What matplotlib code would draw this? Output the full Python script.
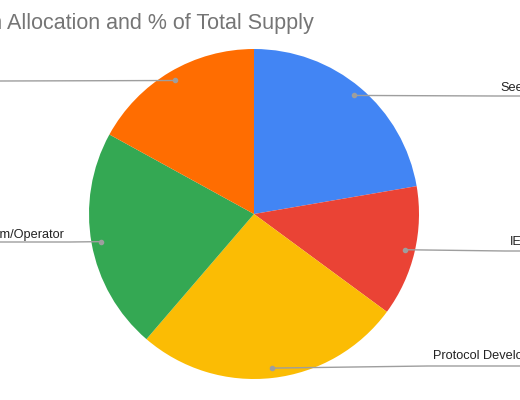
import numpy as np
import matplotlib.pyplot as plt

# token allocation (% of total supply), clockwise from 12 o'clock
labels = ["Seed", "IEO", "Protocol Development", "Team/Operator", "Ecosystem"]
shares = [22.3, 12.8, 26.2, 21.7, 17.0]
colors = ["#4285F4", "#EA4335", "#FBBC04", "#34A853", "#FF6D01"]
title = "Token Allocation and % of Total Supply"

W, H = 520, 400
fig = plt.figure(figsize=(5.2, 4.0), dpi=100)
ax = fig.add_axes([0, 0, 1, 1])

cx, cy, r = 254, H - 214, 165
wedges, _ = ax.pie(shares, colors=colors, startangle=90, counterclock=False,
                   center=(cx, cy), radius=r, frame=True)
ax.set_xlim(0, W)
ax.set_ylim(0, H)
ax.set_aspect("equal")
ax.axis("off")

# label anchors: (text x, text y, line end x, line end y, align)
label_pos = [
    (500, H - 88, 530, H - 96, "left"),
    (510, H - 242, 530, H - 251, "left"),
    (433, H - 356, 530, H - 366, "left"),
    (65, H - 235, -10, H - 242, "right"),
    (-5, H - 73, -10, H - 81, "right"),
]

for w, lab, (tx, ty, lx, ly, ha) in zip(wedges, labels, label_pos):
    mid = np.deg2rad((w.theta1 + w.theta2) / 2)
    px = cx + 0.94 * r * np.cos(mid)
    py = cy + 0.94 * r * np.sin(mid)
    knee = tx - 5 if ha == "left" else tx + 5
    ax.plot([px, knee, lx], [py, ly, ly], color="#9e9e9e", lw=1.0,
            solid_capstyle="butt")
    ax.plot([px], [py], "o", color="#9e9e9e", ms=3)
    ax.text(tx, ty, lab, ha=ha, va="center", fontsize=9.2,
            family="Liberation Sans", color="#222222")

# title: cropped on the left so that "Allocation" starts near x=8
tfont = dict(fontsize=15.5, family="Liberation Sans", color="#757575")
probe = fig.text(0, 0, "Token ", **tfont)
fig.canvas.draw()
shift = probe.get_window_extent().width
probe.remove()
fig.text((8 - shift) / W, 1 - 23 / H, title, ha="left", va="center", **tfont)

fig.savefig("out.png", dpi=100)
